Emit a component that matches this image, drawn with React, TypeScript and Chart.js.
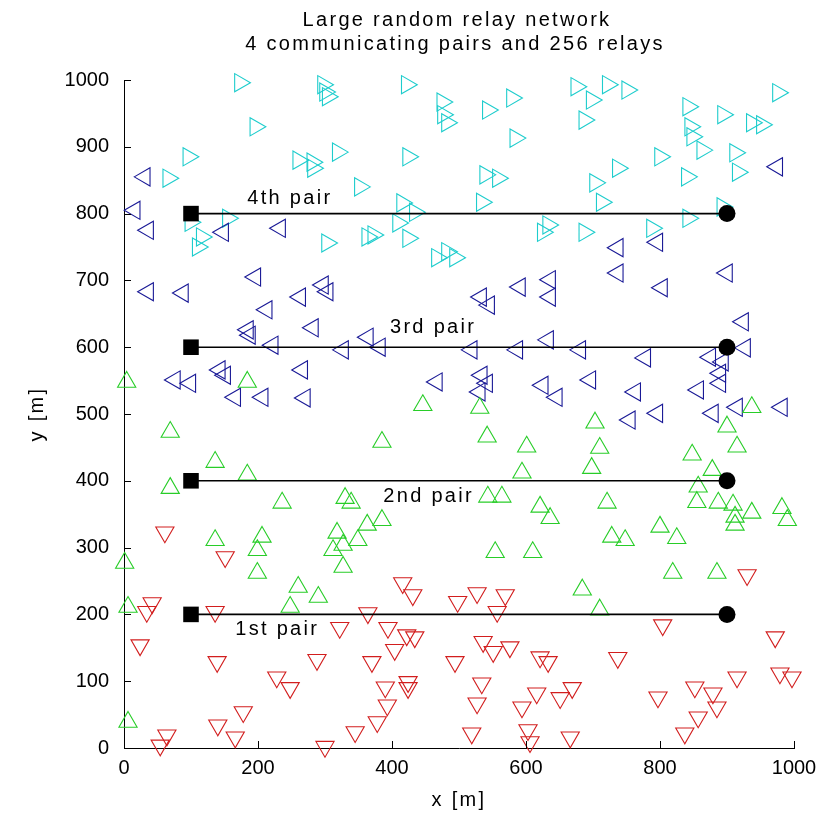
import { useEffect, useRef } from 'react';
import { Chart, registerables } from 'chart.js';

Chart.register(...registerables);

const WIDTH = 837;
const HEIGHT = 823;

// Relays assigned to each communicating pair (positions in metres)
const relays1X = [61, 151, 42, 34, 136, 24, 139, 228, 248, 288, 322, 178, 140, 166, 64, 54, 300, 416, 431, 498, 527, 569, 557, 364, 394, 422, 434, 404, 370, 494, 536, 551, 576, 621, 633, 390, 424, 424, 534, 527, 393, 378, 345, 519, 594, 616, 651, 669, 603, 606, 666, 930, 804, 972, 737, 915, 979, 997, 852, 879, 885, 857, 837, 797];
const relays1Y = [323, 286, 217, 204, 204, 154, 129, 106, 90, 132, 180, 54, 34, 16, 19, 4, 2, 247, 229, 219, 232, 229, 204, 202, 180, 169, 166, 147, 129, 129, 159, 144, 151, 136, 129, 91, 99, 90, 97, 67, 64, 39, 24, 22, 61, 82, 75, 90, 27, 9, 16, 259, 184, 166, 135, 106, 112, 106, 91, 82, 61, 46, 22, 76];

const relays2X = [4, 184, 69, 136, 69, 184, 236, 330, 339, 446, 531, 385, 542, 601, 594, 543, 564, 621, 636, 363, 385, 937, 703, 900, 710, 915, 698, 848, 878, 857, 855, 887, 909, 937, 912, 912, 982, 990, 721, 800, 1, 6, 6, 136, 206, 199, 199, 260, 248, 290, 318, 312, 327, 349, 327, 554, 610, 728, 748, 825, 819, 885, 684, 710];
const relays2Y = [548, 548, 473, 428, 389, 409, 367, 374, 367, 513, 509, 458, 466, 451, 412, 376, 376, 361, 344, 334, 341, 510, 487, 481, 449, 451, 419, 439, 416, 391, 368, 367, 364, 352, 346, 334, 359, 341, 367, 331, 277, 211, 39, 311, 316, 296, 262, 241, 211, 226, 322, 296, 304, 311, 271, 293, 293, 316, 311, 314, 262, 262, 237, 207];

const relays3X = [31, 16, 36, 148, 233, 196, 36, 88, 297, 304, 263, 533, 545, 591, 636, 636, 975, 796, 737, 737, 803, 900, 213, 185, 188, 282, 222, 327, 76, 99, 143, 151, 166, 207, 266, 270, 364, 382, 519, 587, 633, 467, 534, 542, 531, 625, 646, 924, 681, 927, 778, 875, 894, 890, 696, 763, 857, 890, 755, 796, 879, 915, 982];
const relays3Y = [855, 805, 775, 772, 778, 705, 683, 681, 693, 683, 675, 675, 663, 690, 701, 675, 870, 757, 749, 711, 689, 711, 656, 626, 618, 629, 603, 596, 551, 546, 566, 558, 525, 525, 566, 524, 615, 600, 596, 596, 611, 548, 558, 546, 533, 543, 525, 638, 596, 599, 584, 585, 578, 561, 551, 533, 536, 546, 491, 501, 501, 510, 510];

const relays4X = [173, 297, 300, 304, 196, 96, 66, 260, 281, 282, 319, 155, 99, 116, 110, 303, 422, 475, 476, 482, 543, 579, 584, 675, 687, 424, 352, 539, 558, 534, 415, 434, 409, 424, 363, 372, 467, 482, 494, 633, 625, 687, 722, 751, 698, 842, 845, 848, 863, 894, 937, 952, 976, 800, 737, 703, 713, 840, 912, 916, 893, 842, 788];
const relays4Y = [996, 993, 982, 975, 930, 885, 853, 880, 877, 868, 892, 793, 787, 765, 750, 756, 993, 967, 948, 936, 955, 973, 913, 990, 940, 885, 840, 858, 853, 817, 816, 802, 786, 763, 765, 768, 734, 743, 734, 783, 772, 772, 993, 985, 970, 960, 930, 915, 895, 948, 936, 933, 981, 885, 868, 846, 817, 855, 891, 862, 810, 793, 778];

// Communicating pairs: source at x = 100, destination at x = 900
const pairY = [200, 400, 600, 800];
const sourceX = 100;
const destX = 900;
const pairNames = ['1st pair', '2nd pair', '3rd pair', '4th pair'];
const pairLabelX = [166, 387, 397, 184];
const pairLabelY = [177, 376, 629, 823];

const xTickValues = [0, 200, 400, 600, 800, 1000];
const yTickValues = [0, 100, 200, 300, 400, 500, 600, 700, 800, 900, 1000];

const titleLines = ['Large random relay network', '4 communicating pairs and 256 relays'];
const xAxisTitle = 'x [m]';
const yAxisTitle = 'y [m]';

const FONT = '"Liberation Sans", Arial, Helvetica, sans-serif';

const toPoints = (xs: number[], ys: number[]) => xs.map((x, i) => ({ x, y: ys[i] }));

const relayGroup = (xs: number[], ys: number[], color: string, rotation: number, order: number) => ({
  type: 'scatter' as const,
  data: toPoints(xs, ys),
  showLine: false,
  clip: false,
  pointStyle: 'triangle',
  pointRotation: rotation,
  pointRadius: 10.5,
  pointHoverRadius: 10.5,
  pointBorderWidth: 1.1,
  pointBorderColor: color,
  pointBackgroundColor: 'rgba(0,0,0,0)',
  order,
});

// Inward tick marks and all free text (title, axis titles, pair labels)
const annotate = {
  id: 'annotate',
  afterDraw(chart: any) {
    const { ctx, chartArea, scales } = chart;
    const xs = scales.x;
    const ys = scales.y;
    ctx.save();
    ctx.strokeStyle = '#000';
    ctx.lineWidth = 1;
    ctx.beginPath();
    xTickValues.forEach((v) => {
      const px = Math.round(xs.getPixelForValue(v)) + 0.5;
      ctx.moveTo(px, chartArea.bottom);
      ctx.lineTo(px, chartArea.bottom - 7);
    });
    yTickValues.forEach((v) => {
      const py = Math.round(ys.getPixelForValue(v)) + 0.5;
      ctx.moveTo(chartArea.left, py);
      ctx.lineTo(chartArea.left + 7, py);
    });
    ctx.stroke();

    ctx.fillStyle = '#000';
    ctx.font = `20px ${FONT}`;
    (ctx as any).letterSpacing = '2.3px';
    ctx.textAlign = 'center';
    ctx.textBaseline = 'alphabetic';
    const cx = (chartArea.left + chartArea.right) / 2;
    ctx.fillText(titleLines[0], cx - 2, 26);
    ctx.fillText(titleLines[1], cx - 4, 50);

    ctx.textBaseline = 'middle';
    ctx.fillText(xAxisTitle, cx, 800);
    ctx.save();
    ctx.translate(37, (chartArea.top + chartArea.bottom) / 2);
    ctx.rotate(-Math.PI / 2);
    ctx.fillText(yAxisTitle, 0, 0);
    ctx.restore();

    ctx.textAlign = 'left';
    pairNames.forEach((name, i) => {
      ctx.fillText(name, xs.getPixelForValue(pairLabelX[i]), ys.getPixelForValue(pairLabelY[i]));
    });
    ctx.restore();
  },
};

export default function App() {
  const canvasRef = useRef<HTMLCanvasElement | null>(null);

  useEffect(() => {
    const canvas = canvasRef.current;
    if (!canvas) return;

    const pairSets = pairY.map((y) => ({
      type: 'scatter' as const,
      data: [
        { x: sourceX, y },
        { x: destX, y },
      ],
      showLine: true,
      clip: false,
      borderColor: '#000',
      borderWidth: 1.6,
      pointStyle: ['rect', 'circle'],
      pointRadius: [11, 8.5],
      pointHoverRadius: [11, 8.5],
      pointBackgroundColor: '#000',
      pointBorderColor: '#000',
      pointBorderWidth: 0,
      order: 0,
    }));

    const chart = new Chart(canvas, {
      type: 'scatter',
      data: {
        datasets: [
          ...pairSets,
          relayGroup(relays1X, relays1Y, 'rgb(210,30,30)', 180, 1),
          relayGroup(relays2X, relays2Y, 'rgb(40,205,40)', 0, 2),
          relayGroup(relays3X, relays3Y, 'rgb(25,25,150)', 270, 3),
          relayGroup(relays4X, relays4Y, 'rgb(30,205,205)', 90, 4),
        ] as any,
      },
      options: {
        animation: false,
        responsive: false,
        devicePixelRatio: 1,
        events: [],
        layout: { padding: { top: 80, right: 43, left: 0, bottom: 0 } },
        plugins: {
          legend: { display: false },
          tooltip: { enabled: false },
          title: { display: false },
        },
        scales: {
          x: {
            type: 'linear',
            min: 0,
            max: 1000,
            afterFit: (s: any) => {
              s.height = 75;
            },
            afterBuildTicks: (s: any) => {
              s.ticks = xTickValues.map((v) => ({ value: v }));
            },
            ticks: {
              color: '#000',
              font: { family: FONT, size: 20 },
              padding: 8,
              maxRotation: 0,
              autoSkip: false,
              callback: (v: any) => String(v),
            },
            grid: { display: false, drawTicks: false },
            border: { display: true, color: '#000', width: 1 },
          },
          y: {
            type: 'linear',
            min: 0,
            max: 1000,
            afterFit: (s: any) => {
              s.width = 124;
            },
            afterBuildTicks: (s: any) => {
              s.ticks = yTickValues.map((v) => ({ value: v }));
            },
            ticks: {
              color: '#000',
              font: { family: FONT, size: 20 },
              padding: 15,
              autoSkip: false,
              callback: (v: any) => String(v),
            },
            grid: { display: false, drawTicks: false },
            border: { display: true, color: '#000', width: 1 },
          },
        },
      },
      plugins: [annotate],
    });

    return () => chart.destroy();
  }, []);

  return (
    <div style={{ position: 'absolute', left: 0, top: 0, width: WIDTH, height: HEIGHT, background: '#fff' }}>
      <canvas ref={canvasRef} width={WIDTH} height={HEIGHT} style={{ display: 'block', width: WIDTH, height: HEIGHT }} />
    </div>
  );
}
